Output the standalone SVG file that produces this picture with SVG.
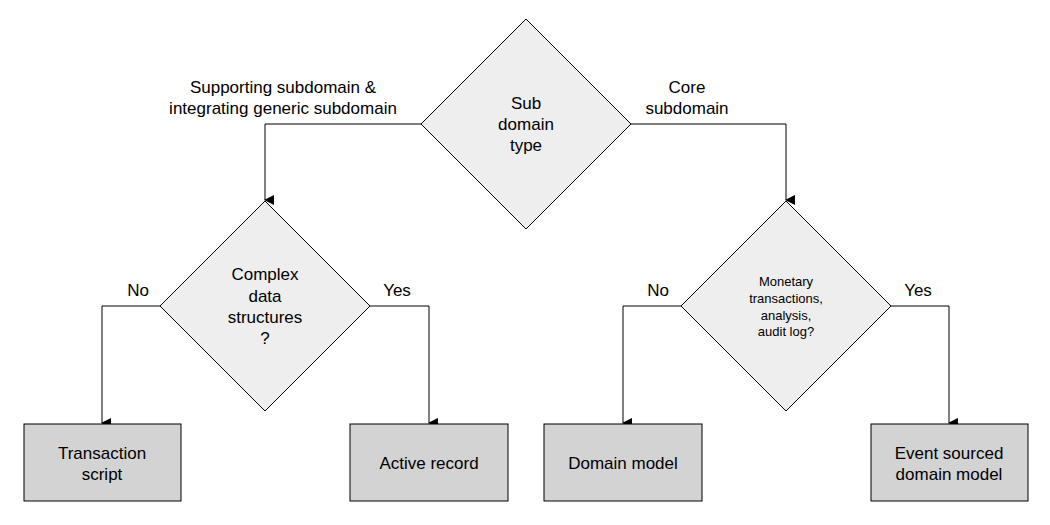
<svg xmlns="http://www.w3.org/2000/svg" width="1050" height="525" viewBox="0 0 1050 525">
<style>
text{font-family:"Liberation Sans",Arial,sans-serif;font-size:17px;fill:#000;text-anchor:middle}
.d{fill:#eeeeee;stroke:#000;stroke-width:1}
.b{fill:#d3d3d3;stroke:#000;stroke-width:1}
.c{fill:none;stroke:#000;stroke-width:1}
.s{font-size:13px}
</style>
<defs><marker id="a" markerWidth="10" markerHeight="10" refX="5" refY="9" orient="auto" markerUnits="userSpaceOnUse" viewBox="0 0 10 10"><path d="M0,0 L10,0 L5,10 z" transform="rotate(0)" fill="#000"/></marker></defs>
<rect width="1050" height="525" fill="#fff"/>
<g id="connectors">
<path class="c" d="M421,124 H265 V200" marker-end="url(#a)"/>
<path class="c" d="M631,124 H786 V200" marker-end="url(#a)"/>
<path class="c" d="M160,306 H102 V423" marker-end="url(#a)"/>
<path class="c" d="M370,306 H429 V423" marker-end="url(#a)"/>
<path class="c" d="M681,306 H623 V423" marker-end="url(#a)"/>
<path class="c" d="M891,306 H949 V423" marker-end="url(#a)"/>
<text x="283" y="93">Supporting subdomain &amp;</text>
<text x="283" y="114">integrating generic subdomain</text>
<text x="687" y="93">Core</text>
<text x="687" y="114">subdomain</text>
<text x="138" y="296">No</text>
<text x="397" y="296">Yes</text>
<text x="658" y="296">No</text>
<text x="918" y="296">Yes</text>
</g>
<g id="n1"><path class="d" d="M526,19 L631,124 L526,229 L421,124 z"/><text x="526" y="109">Sub</text><text x="526" y="130">domain</text><text x="526" y="151">type</text></g>
<g id="n2"><path class="d" d="M265,201 L370,306 L265,411 L160,306 z"/><text x="265" y="280">Complex</text><text x="265" y="302">data</text><text x="265" y="323">structures</text><text x="265" y="344">?</text></g>
<g id="n3"><path class="d" d="M786,201 L891,306 L786,411 L681,306 z"/><text class="s" x="786" y="286">Monetary</text><text class="s" x="786" y="303">transactions,</text><text class="s" x="786" y="320">analysis,</text><text class="s" x="786" y="336">audit log?</text></g>
<g id="n4"><rect class="b" x="24" y="424" width="157" height="77"/><text x="102" y="459">Transaction</text><text x="102" y="480">script</text></g>
<g id="n5"><rect class="b" x="350" y="424" width="158" height="77"/><text x="429" y="469">Active record</text></g>
<g id="n6"><rect class="b" x="544" y="424" width="158" height="77"/><text x="623" y="469">Domain model</text></g>
<g id="n7"><rect class="b" x="871" y="424" width="157" height="77"/><text x="949" y="459">Event sourced</text><text x="949" y="480">domain model</text></g>
</svg>
